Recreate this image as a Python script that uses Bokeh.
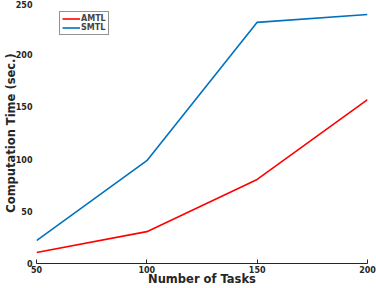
from bokeh.plotting import figure
from bokeh.embed import file_html
from bokeh.resources import INLINE
from bokeh.models import Legend, LegendItem, FixedTicker, Range1d

tasks = [50, 100, 150, 200]
amtl = [10.5, 30.5, 80.5, 157]
smtl = [22, 98.5, 231, 238.5]
x_ticks = [50, 100, 150, 200]
y_ticks = [0, 50, 100, 150, 200, 250]

p = figure(width=376, height=288, output_backend="svg", toolbar_location=None,
           x_range=Range1d(50, 200), y_range=Range1d(0, 250),
           min_border_left=0, min_border_right=9, min_border_top=2, min_border_bottom=0)
p.outline_line_color = None
p.grid.visible = False
p.background_fill_color = "white"

r1 = p.line(tasks, amtl, line_color="#FF0000", line_width=1.6)
r2 = p.line(tasks, smtl, line_color="#0072BD", line_width=1.6)

font = "DejaVu Sans"
xa = p.xaxis[0]
xa.ticker = FixedTicker(ticks=x_ticks)
xa.axis_label = "Number of Tasks"
xa.axis_label_text_font = font
xa.axis_label_text_font_style = "bold"
xa.axis_label_text_font_size = "11.5px"
xa.axis_label_standoff = -4
xa.major_label_text_font = font
xa.major_label_text_font_style = "bold"
xa.major_label_text_font_size = "8px"
xa.major_label_standoff = 2
xa.major_tick_in = 4
xa.major_tick_out = 0
xa.minor_tick_line_color = None
xa.axis_line_color = "#262626"
xa.major_tick_line_color = "#262626"
xa.major_label_text_color = "#262626"
xa.axis_label_text_color = "#262626"

ya = p.yaxis[0]
ya.ticker = FixedTicker(ticks=y_ticks)
ya.axis_label = "Computation Time (sec.)"
ya.axis_label_text_font = font
ya.axis_label_text_font_style = "bold"
ya.axis_label_text_font_size = "11.5px"
ya.axis_label_standoff = -5
ya.major_label_text_font = font
ya.major_label_text_font_style = "bold"
ya.major_label_text_font_size = "8px"
ya.major_label_standoff = 4
ya.major_tick_in = 0
ya.major_tick_out = 0
ya.minor_tick_line_color = None
ya.axis_line_color = None
ya.major_label_text_color = "#262626"
ya.axis_label_text_color = "#262626"

legend = Legend(items=[LegendItem(label="AMTL", renderers=[r1]),
                       LegendItem(label="SMTL", renderers=[r2])],
                location=(23, 228))
legend.label_text_font = font
legend.label_text_font_style = "bold"
legend.label_text_font_size = "8px"
legend.label_standoff = 1
legend.label_height = 9
legend.glyph_height = 9
legend.glyph_width = 18
legend.spacing = 0
legend.padding = 2
legend.margin = 0
legend.border_line_color = "#262626"
legend.border_line_width = 1
legend.background_fill_alpha = 1
p.add_layout(legend)

open("out.html", "w").write(file_html(p, INLINE))
